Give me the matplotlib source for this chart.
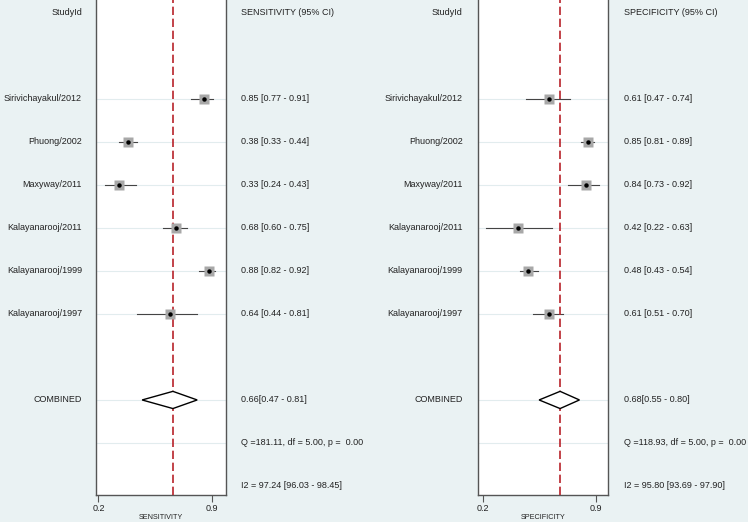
import matplotlib
matplotlib.use('Agg')
import matplotlib.pyplot as plt
from matplotlib.transforms import blended_transform_factory

plt.rcParams['font.family'] = ['Liberation Sans', 'DejaVu Sans']

# 数据
studies = ['Sirivichayakul/2012', 'Phuong/2002', 'Maxyway/2011',
           'Kalayanarooj/2011', 'Kalayanarooj/1999', 'Kalayanarooj/1997']
sens = [0.85, 0.38, 0.33, 0.68, 0.88, 0.64]
sens_lo = [0.77, 0.33, 0.24, 0.60, 0.82, 0.44]
sens_hi = [0.91, 0.44, 0.43, 0.75, 0.92, 0.81]
spec = [0.61, 0.85, 0.84, 0.42, 0.48, 0.61]
spec_lo = [0.47, 0.81, 0.73, 0.22, 0.43, 0.51]
spec_hi = [0.74, 0.89, 0.92, 0.63, 0.54, 0.70]
sens_comb = [0.66, 0.47, 0.81]
spec_comb = [0.68, 0.55, 0.80]
sens_q = 'Q =181.11, df = 5.00, p =  0.00'
spec_q = 'Q =118.93, df = 5.00, p =  0.00'
sens_i2 = 'I2 = 97.24 [96.03 - 98.45]'
spec_i2 = 'I2 = 95.80 [93.69 - 97.90]'

W, H = 748, 522
bg = '#eaf2f3'
grid_c = '#e2ecee'
txt_c = '#222222'
fs = 6.5

fig = plt.figure(figsize=(W / 100, H / 100), dpi=100, facecolor=bg)

study_rows = [2, 3, 4, 5, 6, 7]
comb_row, q_row, i2_row = 9, 10, 11


def panel(left_px, xlim, label_right, stats_left, est, lo, hi, comb, q, i2, title, xlabel):
    ax = fig.add_axes([left_px / W, 27 / H, 130.5 / W, 495 / H])
    ax.set_facecolor('white')
    ax.set_xlim(*xlim)
    ax.set_ylim(11.21, -0.30)
    ax.spines['top'].set_visible(False)
    for s in ['left', 'right', 'bottom']:
        ax.spines[s].set_color('#555555')
        ax.spines[s].set_linewidth(1.0)
    ax.set_yticks([])
    ax.set_xticks([0.2, 0.9])
    ax.set_xticklabels(['0.2', '0.9'])
    ax.tick_params(axis='x', direction='out', length=5, width=0.8, color='#555555',
                   labelsize=fs, labelcolor=txt_c, pad=1.5)
    ax.set_xlabel(xlabel, fontsize=5.2, color=txt_c, labelpad=1)

    # 横向浅色网格线
    for r in study_rows + [comb_row, q_row]:
        ax.axhline(r, color=grid_c, lw=0.8, zorder=0)

    # 合并值的红色虚线
    ax.axvline(comb[0], color='#b8222a', lw=1.2, linestyle=(0, (5, 2.2)), zorder=3)

    for r, e, l, h in zip(study_rows, est, lo, hi):
        ax.plot([l, h], [r, r], color='#444444', lw=0.8, zorder=2)
        ax.plot(e, r, marker='s', markersize=7, color='#a8a8a8', mec='none', zorder=4)
        ax.plot(e, r, marker='o', markersize=2.2, color='black', zorder=5)

    # 菱形
    dh = 0.2
    ax.fill([comb[1], comb[0], comb[2], comb[0], comb[1]],
            [comb_row, comb_row - dh, comb_row, comb_row + dh, comb_row],
            facecolor='white', edgecolor='black', lw=1.0, zorder=4)

    tr_l = blended_transform_factory(fig.transFigure, ax.transData)
    kw = dict(transform=tr_l, fontsize=fs, color=txt_c, va='center', clip_on=False)
    ax.text(label_right / W, 0, 'StudyId', ha='right', **kw)
    ax.text(stats_left / W, 0, title, ha='left', **kw)
    for r, name, e, l, h in zip(study_rows, studies, est, lo, hi):
        ax.text(label_right / W, r, name, ha='right', **kw)
        ax.text(stats_left / W, r, f'{e:.2f} [{l:.2f} - {h:.2f}]', ha='left', **kw)
    ax.text(label_right / W, comb_row, 'COMBINED', ha='right', **kw)
    ax.text(stats_left / W, comb_row, f'{comb[0]:.2f}[{comb[1]:.2f} - {comb[2]:.2f}]', ha='left', **kw)
    ax.text(stats_left / W, q_row, q, ha='left', **kw)
    ax.text(stats_left / W, i2_row, i2, ha='left', **kw)
    return ax


panel(95.5, (0.182, 0.988), 82, 241, sens, sens_lo, sens_hi, sens_comb,
      sens_q, sens_i2, 'SENSITIVITY (95% CI)', 'SENSITIVITY')
panel(477.5, (0.168, 0.977), 462.5, 624, spec, spec_lo, spec_hi, spec_comb,
      spec_q, spec_i2, 'SPECIFICITY (95% CI)', 'SPECIFICITY')

plt.savefig('out.png', dpi=100, facecolor=bg)
